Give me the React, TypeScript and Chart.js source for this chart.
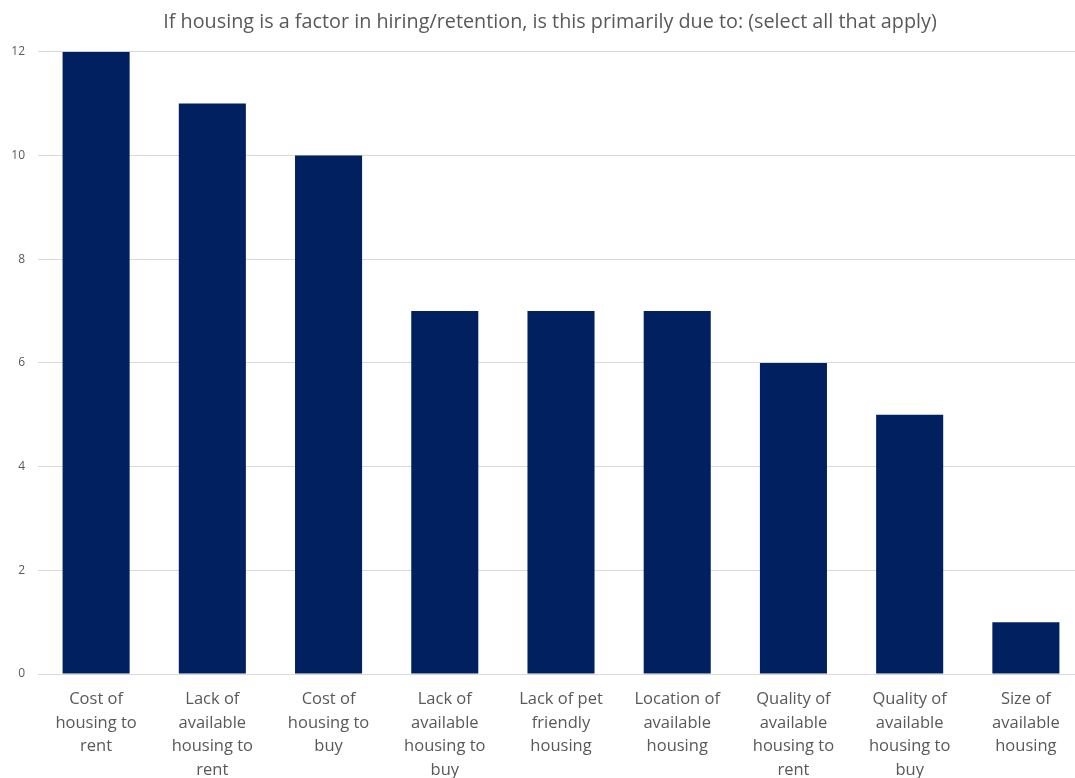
import React, { useEffect, useRef } from "react";
import { Chart, registerables } from "chart.js";

Chart.register(...registerables);

const TITLE = "If housing is a factor in hiring/retention, is this primarily due to: (select all that apply)";

const categories: string[][] = [
  ["Cost of", "housing to", "rent"],
  ["Lack of", "available", "housing to", "rent"],
  ["Cost of", "housing to", "buy"],
  ["Lack of", "available", "housing to", "buy"],
  ["Lack of pet", "friendly", "housing"],
  ["Location of", "available", "housing"],
  ["Quality of", "available", "housing to", "rent"],
  ["Quality of", "available", "housing to", "buy"],
  ["Size of", "available", "housing"],
];

const values: number[] = [12, 11, 10, 7, 7, 7, 6, 5, 1];

const yMin = 0;
const yMax = 12;
const yStep = 2;

const FONT = "'Open Sans', 'Noto Sans', sans-serif";

export default function App() {
  const ref = useRef<HTMLCanvasElement | null>(null);

  useEffect(() => {
    document.body.style.margin = "0";
    if (!ref.current) return;
    const chart = new Chart(ref.current, {
      type: "bar",
      data: {
        labels: categories,
        datasets: [
          {
            data: values,
            backgroundColor: "#002060",
            borderWidth: 0,
            barPercentage: 0.577,
            categoryPercentage: 1,
          },
        ],
      },
      options: {
        responsive: false,
        animation: false,
        layout: { padding: 0 },
        plugins: {
          legend: { display: false },
          tooltip: { enabled: false },
          title: {
            display: true,
            text: TITLE,
            color: "#595959",
            font: { family: FONT, size: 19.8, weight: "normal" },
            padding: { top: 10, bottom: 18 },
          },
        },
        scales: {
          x: {
            grid: { display: false, drawTicks: false },
            border: { display: true, color: "#d9d9d9", width: 1 },
            ticks: {
              color: "#595959",
              font: { family: FONT, size: 16.5, lineHeight: 1.42 },
              padding: 14,
              maxRotation: 0,
              autoSkip: false,
            },
            afterFit: (scale: any) => {
              scale.height = 126;
            },
          },
          y: {
            min: yMin,
            max: yMax,
            grid: { color: "#d9d9d9", drawTicks: false },
            border: { display: false },
            ticks: {
              stepSize: yStep,
              color: "#595959",
              font: { family: FONT, size: 12 },
              padding: 13,
            },
            afterFit: (scale: any) => {
              scale.width = 38;
            },
          },
          spacer: {
            type: "linear",
            position: "right",
            min: yMin,
            max: yMax,
            grid: { display: false, drawTicks: false },
            border: { display: false },
            ticks: { display: false },
            afterFit: (scale: any) => {
              scale.width = 16;
            },
          },
        },
      },
    });
    return () => chart.destroy();
  }, []);

  return (
    <div style={{ width: 1075, height: 778, overflow: "hidden", position: "relative", background: "#fff" }}>
      <canvas ref={ref} width={1100} height={800} style={{ display: "block" }} />
    </div>
  );
}
